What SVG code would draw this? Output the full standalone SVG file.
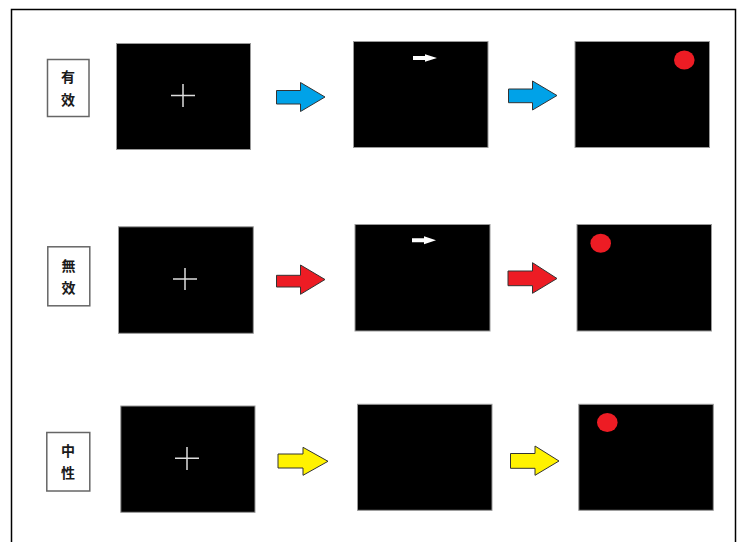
<svg xmlns="http://www.w3.org/2000/svg" width="737" height="542" viewBox="0 0 737 542">
<style>
.frame{fill:none;stroke:#000;stroke-width:1.5}
.label{fill:#fff;stroke:#666;stroke-width:1.5}
.lt{font-family:"Noto Sans CJK JP","Noto Sans CJK SC",serif;font-size:14px;font-weight:bold;fill:#1a1a1a;text-anchor:middle;dominant-baseline:central}
.scr{fill:#000;stroke:#999;stroke-width:1}
.cross{stroke:#ddd;stroke-width:1.5}
.dot{fill:#ED1C24}
.cue{fill:#fff}
.blue{fill:#00A2E8;stroke:#333;stroke-width:1}
.red{fill:#ED1C24;stroke:#333;stroke-width:1}
.yellow{fill:#FFF200;stroke:#333;stroke-width:1}
</style>
<rect width="737" height="542" fill="#fff"/>
<path class="frame" d="M11.5,545 V9.5 H735.5 V545"/>

<g id="row1">
  <g id="label-valid"><rect class="label" x="47.5" y="59.5" width="41.5" height="57"/>
    <text class="lt" x="68" y="75.5">有</text><text class="lt" x="68" y="98.5">效</text></g>
  <g id="r1-fix"><rect class="scr" x="116.5" y="43.5" width="134" height="106"/>
    <path class="cross" d="M171,95.5 H195 M183,84 V107"/></g>
  <g id="r1-cue"><rect class="scr" x="353.5" y="41.5" width="134.5" height="106"/>
    <polygon class="cue" points="413,56 425,56 425,54.3 437,58 425,61.7 425,60 413,60"/></g>
  <g id="r1-target"><rect class="scr" x="575" y="41.5" width="134.5" height="106"/>
    <ellipse class="dot" cx="684.3" cy="60" rx="10.3" ry="9.5"/></g>
</g>

<g id="row2">
  <g id="label-invalid"><rect class="label" x="47.8" y="246.8" width="42" height="59"/>
    <text class="lt" x="68.5" y="265">無</text><text class="lt" x="68.5" y="286.5">效</text></g>
  <g id="r2-fix"><rect class="scr" x="118.5" y="226.8" width="134.8" height="106.5"/>
    <path class="cross" d="M173,279 H197 M185,268 V290"/></g>
  <g id="r2-cue"><rect class="scr" x="355" y="224.5" width="135" height="106.5"/>
    <polygon class="cue" points="412,238.3 424,238.3 424,236.3 436,240.3 424,244.3 424,242.3 412,242.3"/></g>
  <g id="r2-target"><rect class="scr" x="577" y="224.5" width="134.5" height="106.5"/>
    <ellipse class="dot" cx="600.7" cy="243.3" rx="10.3" ry="9.5"/></g>
</g>

<g id="row3">
  <g id="label-neutral"><rect class="label" x="46.8" y="432.5" width="43" height="58.5"/>
    <text class="lt" x="68" y="449.5">中</text><text class="lt" x="68" y="471.7">性</text></g>
  <g id="r3-fix"><rect class="scr" x="120.8" y="406" width="134.2" height="106.3"/>
    <path class="cross" d="M175,458.3 H199 M187,447 V470"/></g>
  <g id="r3-cue"><rect class="scr" x="357.5" y="404.3" width="134.5" height="106"/></g>
  <g id="r3-target"><rect class="scr" x="578.8" y="404.3" width="134.5" height="106"/>
    <ellipse class="dot" cx="607.3" cy="422.5" rx="10.3" ry="9.5"/></g>
</g>

<g id="connectors">
  <polygon class="blue" points="276.5,90.5 300.5,90.5 300.5,82.5 325,97 300.5,111.5 300.5,104 276.5,104"/>
  <polygon class="blue" points="508.5,89 532.5,89 532.5,81 557,95.5 532.5,110 532.5,102.7 508.5,102.7"/>
  <polygon class="red" points="276.5,275.3 300.5,275.3 300.5,265 325,279.5 300.5,294.3 300.5,287 276.5,287"/>
  <polygon class="red" points="508,271 532.5,271 532.5,262.7 557,278.5 532.5,293.3 532.5,285.7 508,285.7"/>
  <polygon class="yellow" points="278,454 303,454 303,447.3 328,461.3 303,475.3 303,468 278,468"/>
  <polygon class="yellow" points="510.5,453.5 535,453.5 535,446 559,461 535,475.3 535,468.3 510.5,468.3"/>
</g>
</svg>
